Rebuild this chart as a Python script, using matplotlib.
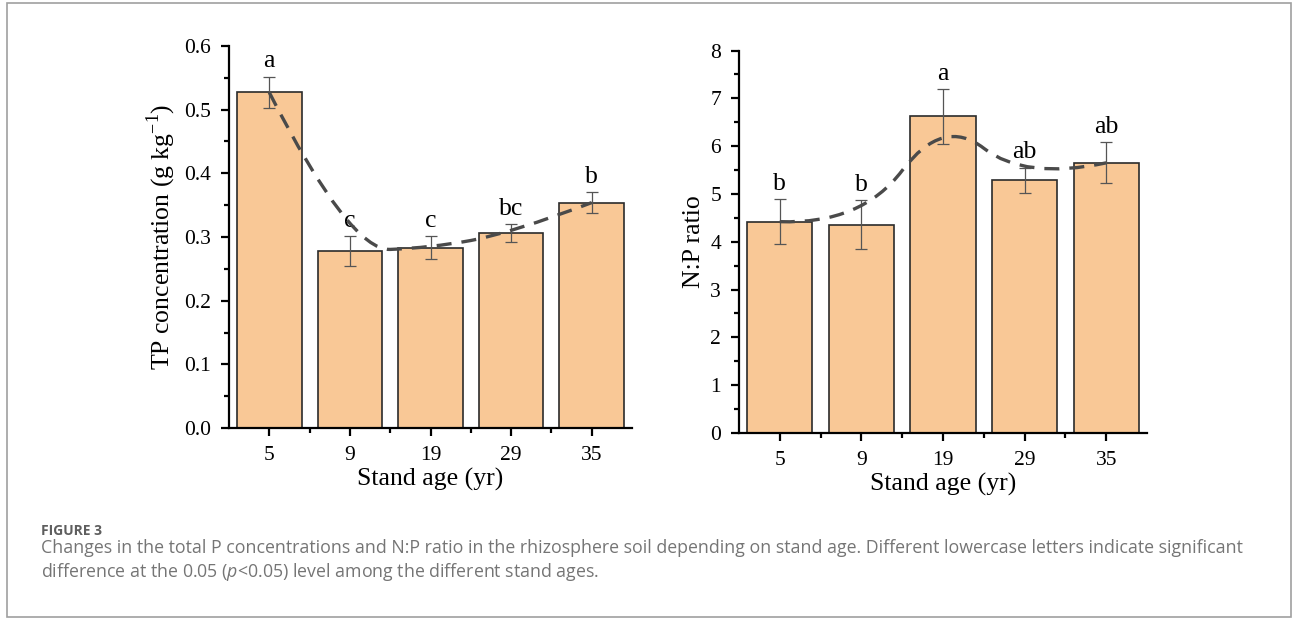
import numpy as np
import matplotlib
matplotlib.use('Agg')
import matplotlib.pyplot as plt
from matplotlib.path import Path
from matplotlib.patches import PathPatch, Rectangle
from matplotlib.ticker import MultipleLocator, FixedLocator

plt.rcParams['font.family'] = ['Liberation Serif', 'DejaVu Serif']
plt.rcParams['mathtext.fontset'] = 'custom'
plt.rcParams['mathtext.rm'] = 'Liberation Serif'
plt.rcParams['mathtext.it'] = 'Open Sans:italic'

# data
ages = ['5', '9', '19', '29', '35']
tp_mean = [0.527, 0.278, 0.283, 0.306, 0.354]
tp_err = [0.025, 0.024, 0.018, 0.014, 0.017]
tp_letters = ['a', 'c', 'c', 'bc', 'b']
np_mean = [4.42, 4.36, 6.62, 5.29, 5.65]
np_err = [0.47, 0.51, 0.57, 0.26, 0.43]
np_letters = ['b', 'b', 'a', 'ab', 'ab']

BAR_COLOR = '#f9c896'
W, H = 1292, 618


def bspline_path(xs, ys):
    # quadratic B-spline through first/last point (like Origin's B-Spline connect)
    pts = list(zip(xs, ys))
    verts = [pts[0]]
    codes = [Path.MOVETO]
    for i in range(1, len(pts) - 1):
        ctrl = pts[i]
        if i < len(pts) - 2:
            end = ((pts[i][0] + pts[i + 1][0]) / 2, (pts[i][1] + pts[i + 1][1]) / 2)
        else:
            end = pts[i + 1]
        verts += [ctrl, end]
        codes += [Path.CURVE3, Path.CURVE3]
    return Path(verts, codes)


def draw_panel(ax, means, errs, letters, ylim, major, ylabel, fmt):
    x = np.arange(len(ages))
    ax.bar(x, means, width=0.8, color=BAR_COLOR, edgecolor='#2b2b2b', linewidth=1.2, zorder=2)
    ax.errorbar(x, means, yerr=errs, fmt='none', ecolor='#555555', elinewidth=0.9,
                capsize=4, capthick=0.9, zorder=3)
    patch = PathPatch(bspline_path(x, means), facecolor='none', edgecolor='#4a4a4a',
                      linewidth=2.4, linestyle=(0, (4.5, 3)), zorder=4)
    ax.add_patch(patch)
    for xi, m, e, lab in zip(x, means, errs, letters):
        ax.annotate(lab, (xi, m + e), xytext=(0, 3), textcoords='offset points',
                    ha='center', va='bottom', fontsize=18.5)
    ax.set_xlim(-0.5, 4.5)
    ax.set_ylim(*ylim)
    ax.set_xticks(x)
    ax.set_xticklabels(ages)
    ax.xaxis.set_minor_locator(FixedLocator(x[:-1] + 0.5))
    ax.yaxis.set_major_locator(MultipleLocator(major))
    ax.yaxis.set_minor_locator(MultipleLocator(major / 2))
    ax.yaxis.set_major_formatter(fmt)
    for s in ['top', 'right']:
        ax.spines[s].set_visible(False)
    for s in ['left', 'bottom']:
        ax.spines[s].set_linewidth(1.6)
    ax.tick_params(which='major', direction='out', length=6, width=1.6, labelsize=15.5, pad=7)
    ax.tick_params(which='minor', direction='out', length=3.5, width=1.6)
    ax.set_xlabel('Stand age (yr)', fontsize=18.5, labelpad=2)
    ax.set_ylabel(ylabel, fontsize=18.5, labelpad=4)


fig = plt.figure(figsize=(W / 100, H / 100), dpi=100)
ax1 = fig.add_axes([229 / W, 1 - 428 / H, 403 / W, 382 / H])
ax2 = fig.add_axes([739 / W, 1 - 433 / H, 408 / W, 382.5 / H])

draw_panel(ax1, tp_mean, tp_err, tp_letters, (0, 0.6), 0.1,
           'TP concentration (g kg$^{-1}$)', '{x:.1f}')
draw_panel(ax2, np_mean, np_err, np_letters, (0, 8), 1,
           'N:P ratio', '{x:.0f}')

# frame and caption
fig.patches.append(Rectangle((7 / W, 1 - 617 / H), 1284 / W, 614 / H, transform=fig.transFigure,
                             facecolor='none', edgecolor='#a0a0a0', linewidth=1.2))
fig.text(41 / W, 1 - 535 / H, 'FIGURE 3', family='Open Sans', fontweight='bold',
         fontsize=10, color='#5e5e5e', va='baseline')
fig.text(41 / W, 1 - 553 / H,
         'Changes in the total P concentrations and N:P ratio in the rhizosphere soil depending on '
         'stand age. Different lowercase letters indicate significant',
         family='Open Sans', fontsize=12.8, color='#757575', va='baseline')
fig.text(41 / W, 1 - 577 / H,
         'difference at the 0.05 ($\\it{p}$<0.05) level among the different stand ages.',
         family='Open Sans', fontsize=12.8, color='#757575', va='baseline')

fig.savefig('out.png', dpi=100)
